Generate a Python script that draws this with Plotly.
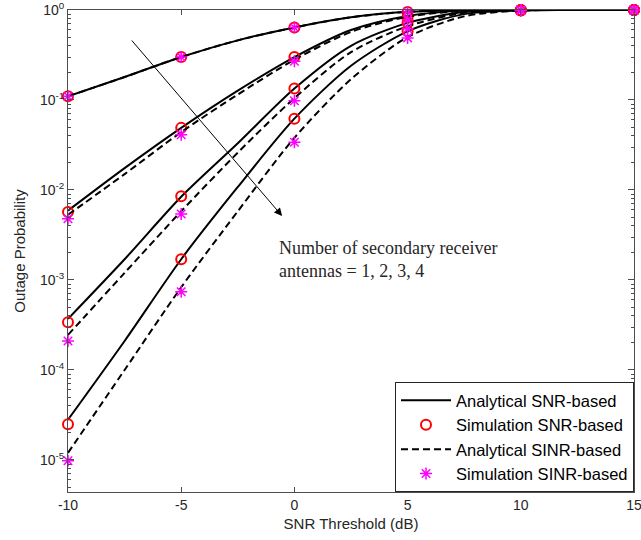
import plotly.graph_objects as go

# ---- data ----
x_sim = [-10, -5, 0, 5, 10, 15]
x_ana = [-10, -7.5, -5, -2.5, 0, 2.5, 5, 7.5, 10, 12.5, 15]

sim_snr_n1 = [0.11, 0.30, 0.64, 0.95, 1.0, 1.0]
sim_snr_n2 = [5.7e-3, 0.049, 0.30, 0.84, 0.999, 1.0]
sim_snr_n3 = [3.4e-4, 8.5e-3, 0.134, 0.72, 0.995, 1.0]
sim_snr_n4 = [2.5e-5, 1.7e-3, 0.062, 0.58, 0.99, 1.0]

sim_sinr_n1 = [0.11, 0.30, 0.64, 0.95, 1.0, 1.0]
sim_sinr_n2 = [4.8e-3, 0.041, 0.27, 0.78, 0.998, 1.0]
sim_sinr_n3 = [2.1e-4, 5.4e-3, 0.098, 0.62, 0.99, 1.0]
sim_sinr_n4 = [9.8e-6, 7.4e-4, 0.034, 0.49, 0.985, 1.0]

ana_snr_n1 = [0.11, 0.18, 0.30, 0.46, 0.64, 0.83, 0.955, 0.995, 1.0, 1.0, 1.0]
ana_snr_n2 = [5.9e-3, 0.0175, 0.049, 0.127, 0.30, 0.60, 0.86, 0.985, 0.999, 1.0, 1.0]
ana_snr_n3 = [3.7e-4, 1.7e-3, 8.4e-3, 0.033, 0.134, 0.40, 0.72, 0.95, 0.996, 1.0, 1.0]
ana_snr_n4 = [2.8e-5, 2.1e-4, 1.7e-3, 0.0108, 0.062, 0.24, 0.58, 0.90, 0.99, 1.0, 1.0]

ana_sinr_n1 = [0.11, 0.18, 0.30, 0.46, 0.64, 0.83, 0.955, 0.995, 1.0, 1.0, 1.0]
ana_sinr_n2 = [5.3e-3, 0.015, 0.044, 0.115, 0.28, 0.57, 0.84, 0.98, 0.998, 1.0, 1.0]
ana_sinr_n3 = [2.45e-4, 1.2e-3, 5.8e-3, 0.026, 0.105, 0.34, 0.66, 0.93, 0.994, 1.0, 1.0]
ana_sinr_n4 = [1.2e-5, 1.0e-4, 8.3e-4, 5.8e-3, 0.038, 0.17, 0.50, 0.85, 0.985, 1.0, 1.0]

x_ticks = [-10, -5, 0, 5, 10, 15]
x_ticktext = ["-10", "-5", "0", "5", "10", "15"]
y_ticks = [1e-5, 1e-4, 1e-3, 1e-2, 1e-1, 1]
y_ticktext = ["10<sup>-5</sup>", "10<sup>-4</sup>", "10<sup>-3</sup>",
              "10<sup>-2</sup>", "10<sup>-1</sup>", "10<sup>0</sup>"]
y_minor = [m * 10.0 ** e for e in range(-6, 0) for m in range(2, 10)]

fig = go.Figure()

ana_snr = [ana_snr_n1, ana_snr_n2, ana_snr_n3, ana_snr_n4]
ana_sinr = [ana_sinr_n1, ana_sinr_n2, ana_sinr_n3, ana_sinr_n4]
sim_snr = [sim_snr_n1, sim_snr_n2, sim_snr_n3, sim_snr_n4]
sim_sinr = [sim_sinr_n1, sim_sinr_n2, sim_sinr_n3, sim_sinr_n4]

# dummy trace to carry the minor-tick axis
fig.add_trace(go.Scatter(x=[None], y=[None], yaxis="y2", showlegend=False,
                         hoverinfo="skip", mode="lines"))

for i, ys in enumerate(ana_snr):
    fig.add_trace(go.Scatter(x=x_ana, y=ys, mode="lines",
                             line=dict(color="black", width=2, shape="spline", smoothing=0.8),
                             name="Analytical SNR-based", legendgroup="a1",
                             showlegend=(i == 0)))
for i, ys in enumerate(sim_snr):
    fig.add_trace(go.Scatter(x=x_sim, y=ys, mode="markers", cliponaxis=False,
                             marker=dict(symbol="circle-open", color="red", size=10,
                                         line=dict(width=2, color="red")),
                             name="Simulation SNR-based", legendgroup="s1",
                             showlegend=(i == 0)))
for i, ys in enumerate(ana_sinr):
    fig.add_trace(go.Scatter(x=x_ana, y=ys, mode="lines",
                             line=dict(color="black", width=2, dash="7px,4px",
                                       shape="spline", smoothing=0.8),
                             name="Analytical SINR-based", legendgroup="a2",
                             showlegend=(i == 0)))
for i, ys in enumerate(sim_sinr):
    fig.add_trace(go.Scatter(x=x_sim, y=ys, mode="markers", cliponaxis=False,
                             marker=dict(symbol="asterisk-open", color="magenta", size=10,
                                         line=dict(width=1.5, color="magenta")),
                             name="Simulation SINR-based", legendgroup="s2",
                             showlegend=(i == 0)))

axis_col = "#4d4d4d"
fig.update_layout(
    width=641, height=540,
    margin=dict(l=67.5, r=7, t=10, b=48),
    plot_bgcolor="white", paper_bgcolor="white",
    font=dict(family="Liberation Sans, Arial, sans-serif", size=14, color="#262626"),
    xaxis=dict(range=[-10, 15], tickvals=x_ticks, ticktext=x_ticktext,
               ticks="inside", ticklen=5, automargin=False, ticklabeloverflow="allow",
               showline=True, linecolor=axis_col, linewidth=1, mirror="ticks",
               tickcolor=axis_col, showgrid=False, zeroline=False,
               title=dict(text="SNR Threshold (dB)", font=dict(size=15), standoff=6),
               tickfont=dict(size=14)),
    yaxis=dict(type="log", range=[-5.356, 0], tickvals=y_ticks, ticktext=y_ticktext,
               ticks="inside", ticklen=6, automargin=False,
               showline=True, linecolor=axis_col, linewidth=1, mirror="ticks",
               tickcolor=axis_col, showgrid=False, zeroline=False,
               title=dict(text="Outage Probability", font=dict(size=15), standoff=10),
               tickfont=dict(size=14)),
    yaxis2=dict(type="log", range=[-5.356, 0], overlaying="y", side="left", anchor="x",
                tickvals=y_minor, ticks="inside", ticklen=3, showticklabels=False,
                automargin=False, showline=True, linecolor=axis_col, linewidth=1,
                mirror="ticks", tickcolor=axis_col, showgrid=False, zeroline=False),
    legend=dict(x=1, y=0, xanchor="right", yanchor="bottom",
                bgcolor="white", bordercolor="#262626", borderwidth=1,
                font=dict(size=16.5, color="black"), tracegroupgap=0, itemwidth=50),
    showlegend=True,
)

# arrow
fig.add_annotation(x=-0.54, y=-2.29, ax=-7.24, ay=-0.322,
                   xref="x", yref="y", axref="x", ayref="y",
                   showarrow=True, arrowhead=2, arrowsize=1.6, arrowwidth=1,
                   arrowcolor="black", text="")
note_font = dict(family="Liberation Serif, DejaVu Serif, serif", size=18, color="#262626")
fig.add_annotation(x=-0.71, y=-2.65, xref="x", yref="y",
                   xanchor="left", yanchor="middle", showarrow=False, align="left",
                   borderpad=0, borderwidth=1, bordercolor="rgba(0,0,0,0)",
                   text="Number of secondary receiver", font=note_font)
fig.add_annotation(x=-0.71, y=-2.905, xref="x", yref="y",
                   xanchor="left", yanchor="middle", showarrow=False, align="left",
                   borderpad=0,
                   text="antennas = 1, 2, 3, 4", font=note_font)

fig.write_html("out.html")
